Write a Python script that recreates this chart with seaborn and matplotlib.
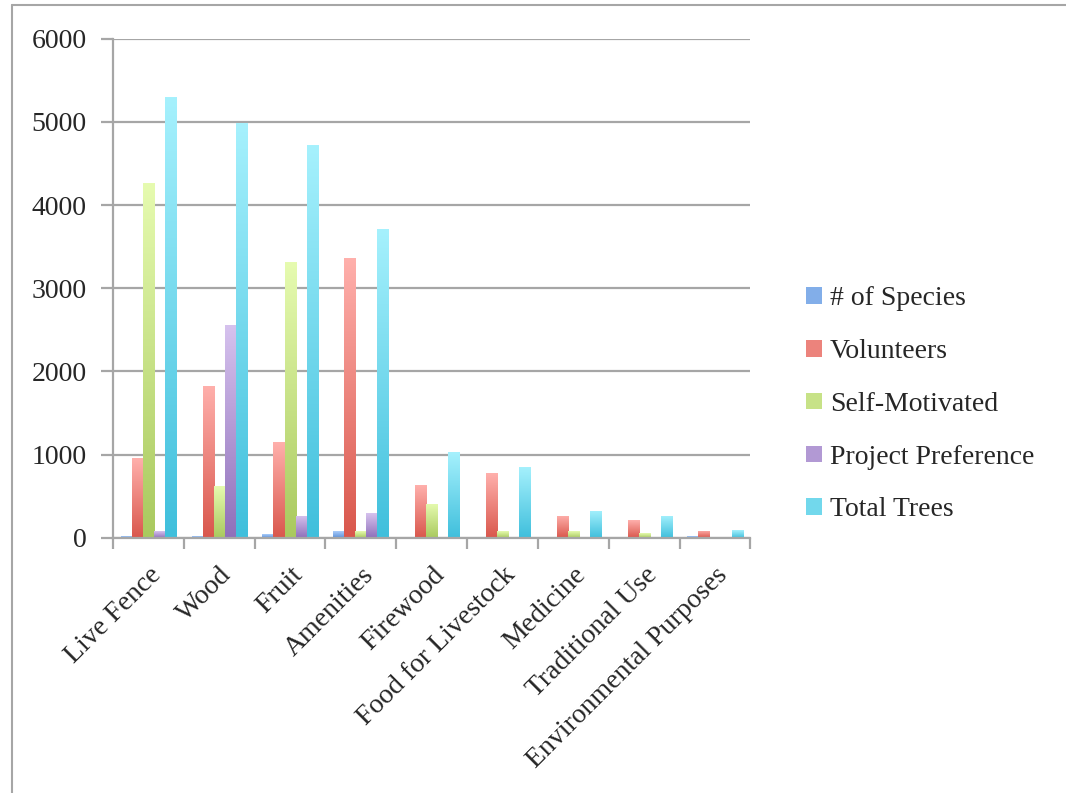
"""Tree planting motivations by use: grouped bar chart."""

import matplotlib
matplotlib.use("Agg")
import matplotlib.pyplot as plt
import numpy as np
import pandas as pd
import seaborn as sns
from matplotlib.colors import LinearSegmentedColormap
from matplotlib.lines import Line2D
from matplotlib.patches import Patch


USES = [
    "Live Fence", "Wood", "Fruit", "Amenities", "Firewood",
    "Food for Livestock", "Medicine", "Traditional Use", "Environmental Purposes",
]
SERIES = ["# of Species", "Volunteers", "Self-Motivated", "Project Preference", "Total Trees"]

species = [20, 15, 45, 75, 10, 5, 5, 5, 20]
volunteers = [960, 1830, 1150, 3360, 635, 780, 265, 215, 85]
self_motivated = [4270, 620, 3310, 75, 410, 75, 75, 60, 5]
project_pref = [75, 2560, 265, 300, 0, 0, 0, 0, 0]
total_trees = [5300, 4990, 4720, 3710, 1030, 855, 325, 265, 95]

# (top colour, bottom colour) for each series' vertical gradient
GRADIENTS = {
    "# of Species": ("#aacdfa", "#5b8fd9"),
    "Volunteers": ("#ffb0ac", "#d9574c"),
    "Self-Motivated": ("#e6fbb0", "#a9c95e"),
    "Project Preference": ("#d6c2ee", "#8f70ba"),
    "Total Trees": ("#a6f1fd", "#3fbfdc"),
}

GREY = "#a6a6a6"
FS = 20


def main() -> None:
    df = pd.DataFrame({"use": USES})
    for name, vals in zip(SERIES, [species, volunteers, self_motivated, project_pref, total_trees]):
        df[name] = vals
    long = df.melt(id_vars="use", var_name="series", value_name="value")

    sns.set_theme(style="white")
    plt.rcParams["font.family"] = ["Liberation Serif", "DejaVu Serif"]

    fig = plt.figure(figsize=(10.66, 7.93), dpi=100)
    ax = fig.add_axes([0.106, 0.322, 0.598, 0.629])

    mid = {k: sns.blend_palette([a, b], 3)[1] for k, (a, b) in GRADIENTS.items()}
    sns.barplot(
        data=long, x="use", y="value", hue="series", order=USES, hue_order=SERIES,
        palette=mid, width=0.78, ax=ax, legend=False, saturation=1,
    )

    # vertical gradient fill for each bar
    for i, name in enumerate(SERIES):
        top, bottom = GRADIENTS[name]
        cmap = LinearSegmentedColormap.from_list(name, [bottom, top])
        for patch in ax.containers[i].patches:
            h = patch.get_height()
            if h <= 0:
                continue
            x0 = patch.get_x()
            w = patch.get_width()
            patch.set_facecolor("none")
            patch.set_edgecolor("none")
            grad = np.linspace(0, 1, 256).reshape(-1, 1)
            im = ax.imshow(
                grad, cmap=cmap, origin="lower", aspect="auto",
                extent=[x0, x0 + w, 0, h], zorder=2,
            )
            im.set_clip_path(patch)
    ax.set_xlim(-0.5, len(USES) - 0.5)
    ax.set_ylim(0, 6000)
    ax.set_aspect("auto")

    ax.set_yticks(range(0, 6001, 1000))
    ax.yaxis.grid(True, color=GREY, linewidth=1.6)
    ax.set_axisbelow(True)
    for side in ["top", "right"]:
        ax.spines[side].set_visible(False)
    for side in ["left", "bottom"]:
        ax.spines[side].set_color(GREY)
        ax.spines[side].set_linewidth(1.6)

    ax.tick_params(axis="y", direction="out", length=9, width=1.6, color=GREY,
                   labelsize=FS, pad=10, left=True)
    ax.set_xticks(range(len(USES)))
    ax.set_xticklabels(USES, rotation=45, ha="right", rotation_mode="anchor", fontsize=FS)
    ax.tick_params(axis="x", length=0, pad=18)
    ax.set_xticks(np.arange(-0.5, len(USES), 1.0), minor=True)
    ax.tick_params(axis="x", which="minor", direction="out", length=8, width=1.6,
                   color=GREY, bottom=True)
    ax.set_xlabel("")
    ax.set_ylabel("")

    handles = [Patch(facecolor=mid[n], edgecolor="none") for n in SERIES]
    fig.legend(
        handles, SERIES, loc="center left", bbox_to_anchor=(0.733, 0.49),
        frameon=False, fontsize=FS, handlelength=0.55, handleheight=0.55,
        handletextpad=0.3, labelspacing=1.0,
    )

    # outer chart border
    fig.add_artist(Line2D([12 / 1066, 12 / 1066], [0, 1 - 5 / 793], color=GREY, lw=1.5))
    fig.add_artist(Line2D([12 / 1066, 1], [1 - 5 / 793, 1 - 5 / 793], color=GREY, lw=1.5))

    fig.savefig("out.png", dpi=100)


if __name__ == "__main__":
    main()
